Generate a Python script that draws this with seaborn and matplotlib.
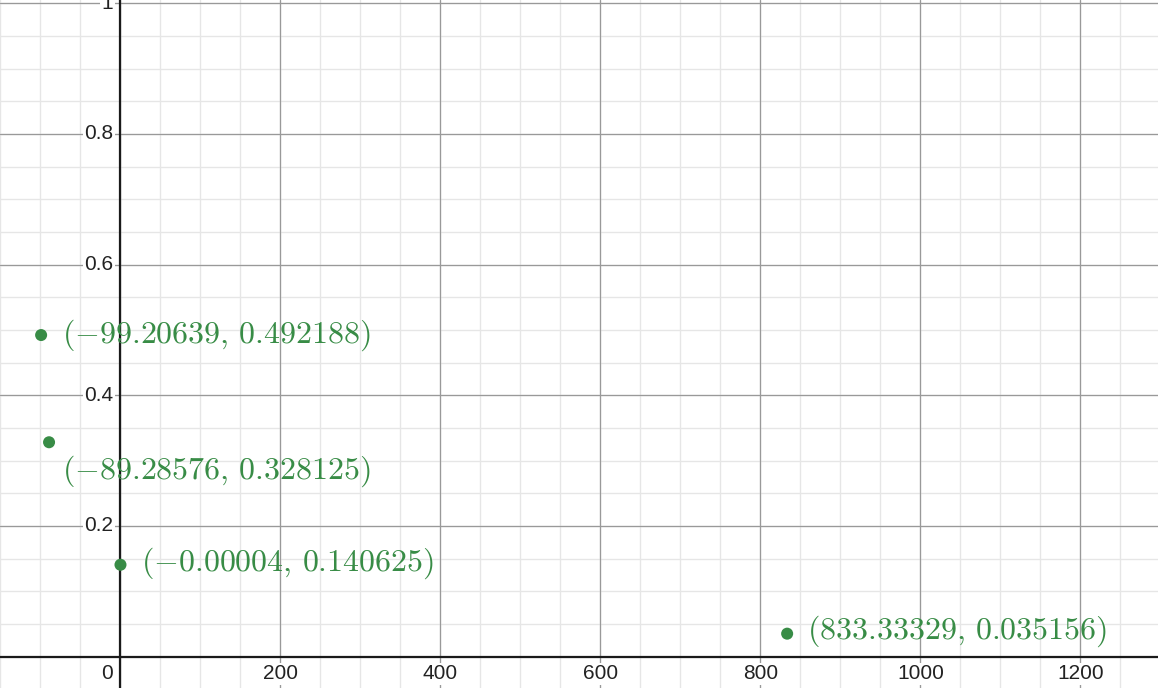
import matplotlib
matplotlib.use("Agg")
import matplotlib.pyplot as plt
import numpy as np
import pandas as pd
import seaborn as sns

# Points and their labels
xValues = [-99.20639, -89.28576, -0.00004, 833.33329]
yValues = [0.492188, 0.328125, 0.140625, 0.035156]
pointLabels = [r"$(-99.20639,\, 0.492188)$",
               r"$(-89.28576,\, 0.328125)$",
               r"$(-0.00004,\, 0.140625)$",
               r"$(833.33329,\, 0.035156)$"]
# label offsets in pixels (dx, dy)
labelOffsets = [(21, 0), (13, -29), (21, 2), (20, 2)]

# Axis ticks
xMajor = [0, 200, 400, 600, 800, 1000, 1200]
yMajor = [0.2, 0.4, 0.6, 0.8, 1]
xMinor = np.arange(-150, 1301, 50)
yMinor = np.arange(-0.05, 1.01, 0.05)

dfPoints = pd.DataFrame({'x': xValues, 'y': yValues})

sns.set_style("white")
plt.rcParams['font.family'] = ['Liberation Sans', 'DejaVu Sans']
plt.rcParams['mathtext.fontset'] = 'cm'

fig = plt.figure(figsize=(11.58, 6.88), dpi=100)
ax = fig.add_axes([0, 0, 1, 1])
ax.set_xlim(-150.6, 1296.9)
ax.set_ylim(-0.048, 1.005)

# grid lines
for xv in xMinor:
    ax.axvline(xv, color='#e6e6e6', lw=1.0, zorder=0)
for yv in yMinor:
    ax.axhline(yv, color='#e6e6e6', lw=1.0, zorder=0)
for xv in xMajor:
    ax.axvline(xv, color='#999999', lw=0.9, zorder=1)
for yv in yMajor:
    ax.axhline(yv, color='#999999', lw=0.9, zorder=1)
ax.axvline(0, color='#1a1a1a', lw=1.6, zorder=2)
ax.axhline(0, color='#1a1a1a', lw=1.6, zorder=2)

# tick labels drawn inside the plot
labelBox = dict(facecolor='white', edgecolor='none', pad=1.0)
for xv in xMajor:
    if xv == 0:
        ax.annotate("0", (0, 0), xytext=(-13, -17), textcoords='offset pixels',
                    ha='center', va='center', fontsize=15, color='#222222', zorder=3)
    else:
        ax.annotate(str(xv), (xv, 0), xytext=(0, -17), textcoords='offset pixels',
                    ha='center', va='center', fontsize=15, color='#222222',
                    bbox=labelBox, zorder=3)
for yv in yMajor:
    ax.annotate(str(yv), (0, yv), xytext=(-7, 0), textcoords='offset pixels',
                ha='right', va='center', fontsize=15, color='#222222',
                bbox=labelBox, zorder=3, annotation_clip=False)

# points
sns.scatterplot(data=dfPoints, x='x', y='y', color='#388c46', s=75,
                edgecolor='none', ax=ax, zorder=5, legend=False)

for xv, yv, lab, off in zip(xValues, yValues, pointLabels, labelOffsets):
    ax.annotate(lab, (xv, yv), xytext=off, textcoords='offset pixels',
                ha='left', va='center', fontsize=23, color='#388c46', zorder=6)

ax.set_xticks([])
ax.set_yticks([])
ax.set_xlabel("")
ax.set_ylabel("")
for s in ax.spines.values():
    s.set_visible(False)

fig.savefig("out.png", dpi=100)
